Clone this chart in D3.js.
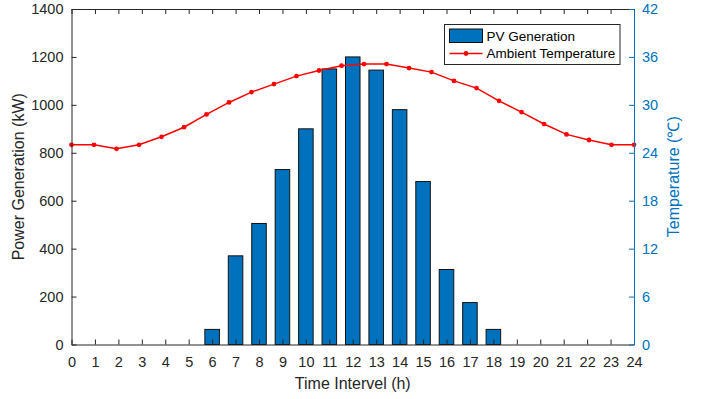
<!DOCTYPE html>
<html>
<head>
<meta charset="utf-8">
<script src="https://cdn.jsdelivr.net/npm/d3@7"></script>
<style>
  body { margin: 0; background: #fff; }
  text { font-family: "Liberation Sans", Arial, sans-serif; }
</style>
</head>
<body>
<script>
// hours on the x axis
var hours = [0,1,2,3,4,5,6,7,8,9,10,11,12,13,14,15,16,17,18,19,20,21,22,23,24];
// PV output per hour (kW)
var pvGen = [0,0,0,0,0,0,63,370,505,730,900,1150,1200,1145,980,680,313,175,63,0,0,0,0,0,0];
// ambient temperature samples (evenly spread over the axis)
var temps = [25,25,24.5,25,26,27.2,28.8,30.3,31.6,32.6,33.6,34.3,34.9,35.1,35.1,34.6,34.1,33.0,32.1,30.5,29.1,27.6,26.3,25.6,25,25];
var leftTicks = [0,200,400,600,800,1000,1200,1400];
var rightTicks = [0,6,12,18,24,30,36,42];

var W = 708, H = 399;
var m = {left: 71.5, right: 634, top: 9, bottom: 344.5};
var blue = "#0072BD", dark = "#262626";

var svg = d3.select("body").append("svg")
            .attr("width", W)
            .attr("height", H)

var x = d3.scaleLinear().domain([0, 24]).range([m.left, m.right]);
var xT = d3.scaleLinear().domain([0, temps.length - 1]).range([m.left, m.right]);
var yL = d3.scaleLinear().domain([0, 1400]).range([m.bottom, m.top]);
var yR = d3.scaleLinear().domain([0, 42]).range([m.bottom, m.top]);

var barW = (x(1) - x(0)) * 0.62;

// BARS
svg.selectAll("rect.bar")
   .data(hours)
   .enter()
   .append("rect")
     .attr("class", "bar")
     .attr("x", function(d){ return x(d) - barW/2 })
     .attr("y", function(d, i){ return yL(pvGen[i]) })
     .attr("width", barW)
     .attr("height", function(d, i){ return m.bottom - yL(pvGen[i]) })
     .attr("fill", blue)
     .attr("stroke", "#111")
     .attr("stroke-width", 1)

// TEMPERATURE LINE
var line = d3.line()
             .x(function(d, i){ return xT(i) })
             .y(function(d){ return yR(d) })

svg.append("path")
   .datum(temps)
   .attr("d", line)
   .attr("fill", "none")
   .attr("stroke", "#FF0000")
   .attr("stroke-width", 1.5)

svg.selectAll("circle.pt")
   .data(temps)
   .enter()
   .append("circle")
     .attr("class", "pt")
     .attr("cx", function(d, i){ return xT(i) })
     .attr("cy", function(d){ return yR(d) })
     .attr("r", 2.4)
     .attr("fill", "#FF0000")

// AXES
var bottomAxis = d3.axisBottom(x).tickValues(hours).tickSizeInner(-5).tickSizeOuter(0).tickPadding(12).tickFormat(d3.format("d"));
var topAxis = d3.axisTop(x).tickValues(hours).tickSizeInner(-5).tickSizeOuter(0).tickFormat("");
var leftAxis = d3.axisLeft(yL).tickValues(leftTicks).tickSizeInner(-5).tickSizeOuter(0).tickPadding(8).tickFormat(d3.format("d"));
var rightAxis = d3.axisRight(yR).tickValues(rightTicks).tickSizeInner(-5).tickSizeOuter(0).tickPadding(8).tickFormat(d3.format("d"));

function style(g, col) {
  g.selectAll("path").attr("stroke", col).attr("stroke-width", 1);
  g.selectAll("line").attr("stroke", col);
  g.selectAll("text").attr("fill", col).style("font-size", "14.5px")
   .style("font-family", "'Liberation Sans', Arial, sans-serif");
}

svg.append("g").attr("transform", "translate(0," + m.bottom + ")").call(bottomAxis).call(style, dark);
svg.append("g").attr("transform", "translate(0," + m.top + ")").call(topAxis).call(style, dark);
svg.append("g").attr("transform", "translate(" + m.left + ",0)").call(leftAxis).call(style, dark);
svg.append("g").attr("transform", "translate(" + m.right + ",0)").call(rightAxis).call(style, blue);

// AXIS TITLES
svg.append("text")
   .attr("x", (m.left + m.right)/2)
   .attr("y", 389)
   .attr("text-anchor", "middle")
   .attr("fill", dark)
   .style("font-size", "16px")
   .text("Time Intervel (h)")

svg.append("text")
   .attr("transform", "translate(24," + (m.top + m.bottom)/2 + ") rotate(-90)")
   .attr("text-anchor", "middle")
   .attr("fill", dark)
   .style("font-size", "16px")
   .text("Power Generation (kW)")

svg.append("text")
   .attr("transform", "translate(679," + (m.top + m.bottom)/2 + ") rotate(-90)")
   .attr("text-anchor", "middle")
   .attr("fill", blue)
   .style("font-size", "16px")
   .text("Temperature (℃)")

// LEGEND
var lg = svg.append("g").attr("transform", "translate(444.5,24.5)");
lg.append("rect")
  .attr("width", 175.5).attr("height", 40)
  .attr("fill", "#fff").attr("stroke", dark).attr("stroke-width", 1)
lg.append("rect")
  .attr("x", 5).attr("y", 4.5).attr("width", 33).attr("height", 13.5)
  .attr("fill", blue).attr("stroke", "#111")
lg.append("line")
  .attr("x1", 5).attr("x2", 38).attr("y1", 29).attr("y2", 29)
  .attr("stroke", "#FF0000").attr("stroke-width", 1.5)
lg.append("circle")
  .attr("cx", 21.5).attr("cy", 29).attr("r", 2.4).attr("fill", "#FF0000")
lg.append("text")
  .attr("x", 42).attr("y", 16).attr("fill", "#000").style("font-size", "13.5px")
  .text("PV Generation")
lg.append("text")
  .attr("x", 42).attr("y", 33.5).attr("fill", "#000").style("font-size", "13.5px")
  .text("Ambient Temperature")
</script>
</body>
</html>
